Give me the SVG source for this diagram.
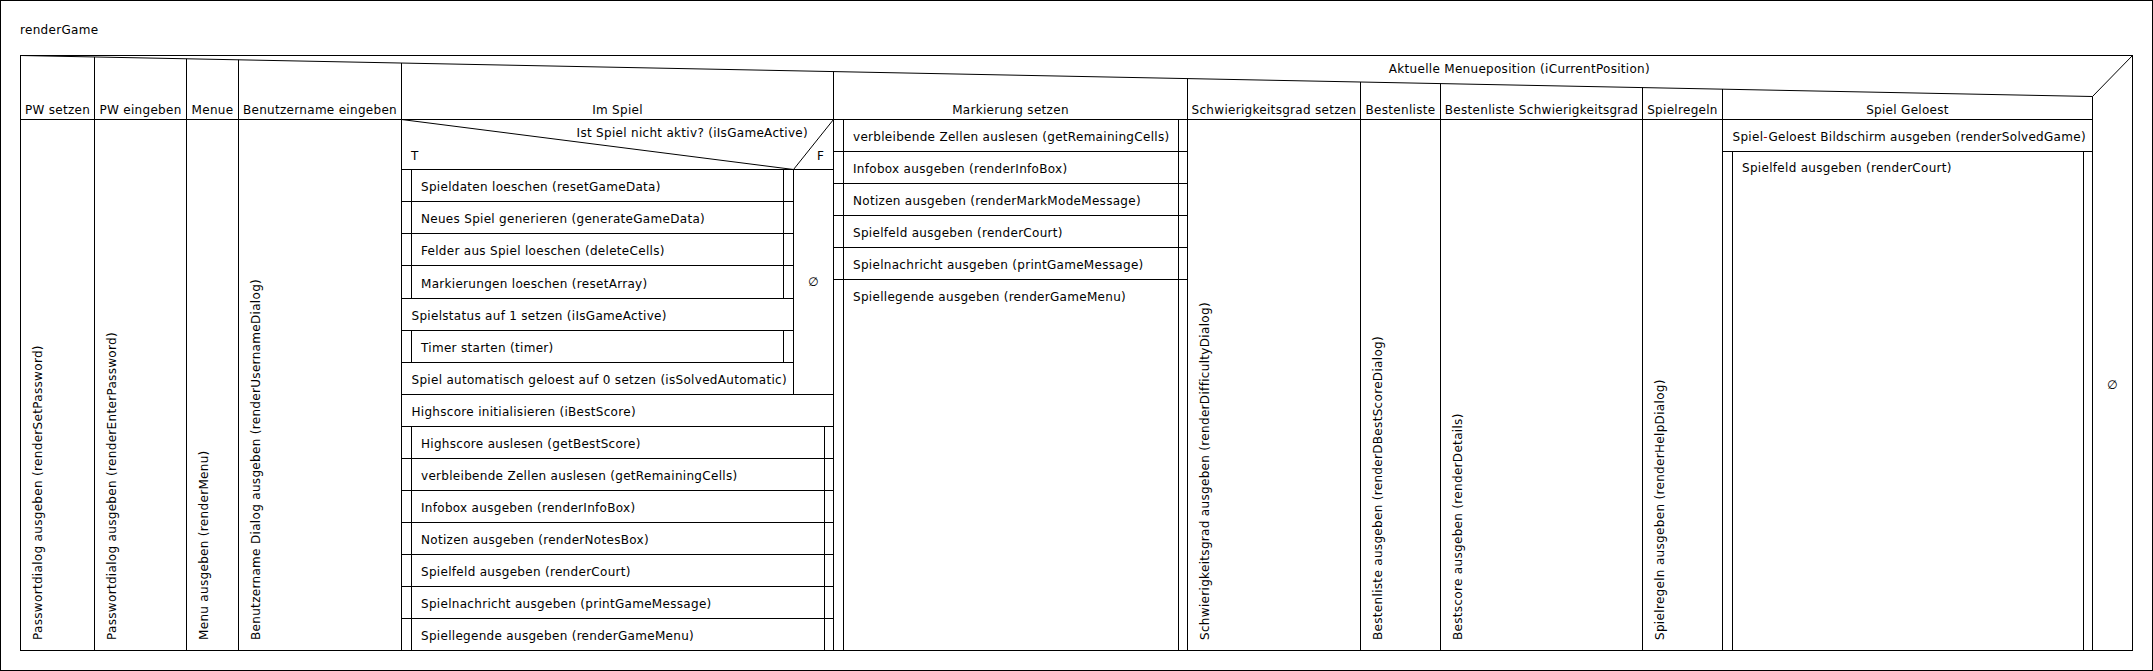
<svg xmlns="http://www.w3.org/2000/svg" width="2153" height="671" viewBox="0 0 2153 671">
<style>
text{font-family:"DejaVu Sans","Liberation Sans",sans-serif;font-size:12px;fill:#000;letter-spacing:0.3px}
.v{letter-spacing:0.32px}
.c{text-anchor:middle}
.e{text-anchor:end}
.ln{stroke:#000;stroke-width:1;fill:none}
.bx{stroke:#000;stroke-width:1;fill:#fff}
.red{fill:#a00000}
</style>
<rect x="0.5" y="0.5" width="2152" height="670" class="bx"/>
<text x="20" y="34">renderGame</text>

<g id="case">
<rect x="20.5" y="55.5" width="2112" height="595" class="bx"/>
<line x1="20.5" y1="55.5" x2="2092.5" y2="96.5" class="ln" stroke="#444"/>
<line x1="2092.5" y1="96.5" x2="2132.5" y2="55.5" class="ln"/>
<line x1="20.5" y1="119.5" x2="2092.5" y2="119.5" class="ln"/>
<line x1="94.5" y1="57" x2="94.5" y2="650.5" class="ln"/>
<line x1="186.5" y1="58.8" x2="186.5" y2="650.5" class="ln"/>
<line x1="238.5" y1="59.8" x2="238.5" y2="650.5" class="ln"/>
<line x1="401.5" y1="63" x2="401.5" y2="650.5" class="ln"/>
<line x1="833.5" y1="71.5" x2="833.5" y2="650.5" class="ln"/>
<line x1="1187.5" y1="78.5" x2="1187.5" y2="650.5" class="ln"/>
<line x1="1360.5" y1="82" x2="1360.5" y2="650.5" class="ln"/>
<line x1="1440.5" y1="83.5" x2="1440.5" y2="650.5" class="ln"/>
<line x1="1642.5" y1="87.5" x2="1642.5" y2="650.5" class="ln"/>
<line x1="1722.5" y1="89" x2="1722.5" y2="650.5" class="ln"/>
<line x1="2092.5" y1="96.5" x2="2092.5" y2="650.5" class="ln"/>
<text x="1650" y="72.5" class="e">Aktuelle Menueposition (iCurrentPosition)</text>
<text x="57.5" y="114" class="c">PW setzen</text>
<text x="140.5" y="114" class="c">PW eingeben</text>
<text x="212.5" y="114" class="c">Menue</text>
<text x="320" y="114" class="c">Benutzername eingeben</text>
<text x="617.5" y="114" class="c">Im Spiel</text>
<text x="1010.5" y="114" class="c">Markierung setzen</text>
<text x="1274" y="114" class="c">Schwierigkeitsgrad setzen</text>
<text x="1400.5" y="114" class="c">Bestenliste</text>
<text x="1541.5" y="114" class="c">Bestenliste Schwierigkeitsgrad</text>
<text x="1682.5" y="114" class="c">Spielregeln</text>
<text x="1907.5" y="114" class="c">Spiel Geloest</text>
<text x="2112.5" y="389" class="c">∅</text>
</g>

<g id="col-pw-setzen">
<text class="v" transform="translate(41.5,640) rotate(-90)">Passwortdialog ausgeben (renderSetPassword)</text>
</g>
<g id="col-pw-eingeben">
<text class="v" transform="translate(115.5,640) rotate(-90)">Passwortdialog ausgeben (renderEnterPassword)</text>
</g>
<g id="col-menue">
<text class="v" transform="translate(207.5,640) rotate(-90)">Menu ausgeben (renderMenu)</text>
</g>
<g id="col-benutzername">
<text class="v" transform="translate(259.5,640) rotate(-90)">Benutzername Dialog ausgeben (renderUsernameDialog)</text>
</g>

<g id="col-im-spiel">
<g id="if-aktiv">
<line x1="401.5" y1="119.5" x2="793.5" y2="169.5" class="ln"/>
<line x1="793.5" y1="169.5" x2="833.5" y2="119.5" class="ln"/>
<line x1="401.5" y1="169.5" x2="833.5" y2="169.5" class="ln"/>
<line x1="793.5" y1="169.5" x2="793.5" y2="394.5" class="ln"/>
<text x="808" y="137" class="e">Ist Spiel nicht aktiv? (iIsGameActive)</text>
<text x="411" y="160">T</text>
<text x="817" y="160">F</text>
<text x="813.5" y="286" class="c">∅</text>
</g>
<g id="s1"><rect x="401.5" y="169.5" width="392" height="32" class="bx"/><line x1="411.5" y1="169.5" x2="411.5" y2="201.5" class="ln"/><line x1="783.5" y1="169.5" x2="783.5" y2="201.5" class="ln"/><text x="421" y="191">Spieldaten loeschen (resetGameData)</text></g>
<g id="s2"><rect x="401.5" y="201.5" width="392" height="32" class="bx"/><line x1="411.5" y1="201.5" x2="411.5" y2="233.5" class="ln"/><line x1="783.5" y1="201.5" x2="783.5" y2="233.5" class="ln"/><text x="421" y="223">Neues Spiel generieren (generateGameData)</text></g>
<g id="s3"><rect x="401.5" y="233.5" width="392" height="32" class="bx"/><line x1="411.5" y1="233.5" x2="411.5" y2="265.5" class="ln"/><line x1="783.5" y1="233.5" x2="783.5" y2="265.5" class="ln"/><text x="421" y="255">Felder aus Spiel loeschen (deleteCells)</text></g>
<g id="s4"><rect x="401.5" y="265.5" width="392" height="33" class="bx"/><line x1="411.5" y1="265.5" x2="411.5" y2="298.5" class="ln"/><line x1="783.5" y1="265.5" x2="783.5" y2="298.5" class="ln"/><text x="421" y="287.5">Markierungen loeschen (resetArray)</text></g>
<g id="s5"><rect x="401.5" y="298.5" width="392" height="32" class="bx"/><text x="411.5" y="320">Spielstatus auf 1 setzen (iIsGameActive)</text></g>
<g id="s6"><rect x="401.5" y="330.5" width="392" height="32" class="bx"/><line x1="411.5" y1="330.5" x2="411.5" y2="362.5" class="ln"/><line x1="783.5" y1="330.5" x2="783.5" y2="362.5" class="ln"/><text x="421" y="352">Timer starten (timer)</text></g>
<g id="s7"><rect x="401.5" y="362.5" width="392" height="32" class="bx"/><text x="411.5" y="384">Spiel automatisch geloest auf 0 setzen (isSolvedAutomatic)</text></g>
<g id="s8"><rect x="401.5" y="394.5" width="432" height="32" class="bx"/><text x="411.5" y="416">Highscore initialisieren (iBestScore)</text></g>
<g id="s9"><rect x="401.5" y="426.5" width="432" height="32" class="bx"/><line x1="411.5" y1="426.5" x2="411.5" y2="458.5" class="ln"/><line x1="824.5" y1="426.5" x2="824.5" y2="458.5" class="ln"/><text x="421" y="448">Highscore auslesen (getBestScore)</text></g>
<g id="s10"><rect x="401.5" y="458.5" width="432" height="32" class="bx"/><line x1="411.5" y1="458.5" x2="411.5" y2="490.5" class="ln"/><line x1="824.5" y1="458.5" x2="824.5" y2="490.5" class="ln"/><text x="421" y="480">verbleibende Zellen auslesen (getRemainingCells)</text></g>
<g id="s11"><rect x="401.5" y="490.5" width="432" height="32" class="bx"/><line x1="411.5" y1="490.5" x2="411.5" y2="522.5" class="ln"/><line x1="824.5" y1="490.5" x2="824.5" y2="522.5" class="ln"/><text x="421" y="512">Infobox ausgeben (renderInfoBox)</text></g>
<g id="s12"><rect x="401.5" y="522.5" width="432" height="32" class="bx"/><line x1="411.5" y1="522.5" x2="411.5" y2="554.5" class="ln"/><line x1="824.5" y1="522.5" x2="824.5" y2="554.5" class="ln"/><text x="421" y="544">Notizen ausgeben (renderNotesBox)</text></g>
<g id="s13"><rect x="401.5" y="554.5" width="432" height="32" class="bx"/><line x1="411.5" y1="554.5" x2="411.5" y2="586.5" class="ln"/><line x1="824.5" y1="554.5" x2="824.5" y2="586.5" class="ln"/><text x="421" y="576">Spielfeld ausgeben (renderCourt)</text></g>
<g id="s14"><rect x="401.5" y="586.5" width="432" height="32" class="bx"/><line x1="411.5" y1="586.5" x2="411.5" y2="618.5" class="ln"/><line x1="824.5" y1="586.5" x2="824.5" y2="618.5" class="ln"/><text x="421" y="608">Spielnachricht ausgeben (printGameMessage)</text></g>
<g id="s15"><rect x="401.5" y="618.5" width="432" height="32" class="bx"/><line x1="411.5" y1="618.5" x2="411.5" y2="650.5" class="ln"/><line x1="824.5" y1="618.5" x2="824.5" y2="650.5" class="ln"/><text x="421" y="640">Spiellegende ausgeben (renderGameMenu)</text></g>
</g>

<g id="col-markierung">
<g id="m1"><rect x="833.5" y="119.5" width="354" height="32" class="bx"/><line x1="843.5" y1="119.5" x2="843.5" y2="151.5" class="ln"/><line x1="1178.5" y1="119.5" x2="1178.5" y2="151.5" class="ln"/><text x="853" y="141">verbleibende Zellen auslesen (getRemainingCells)</text></g>
<g id="m2"><rect x="833.5" y="151.5" width="354" height="32" class="bx"/><line x1="843.5" y1="151.5" x2="843.5" y2="183.5" class="ln"/><line x1="1178.5" y1="151.5" x2="1178.5" y2="183.5" class="ln"/><text x="853" y="173">Infobox ausgeben (renderInfoBox)</text></g>
<g id="m3"><rect x="833.5" y="183.5" width="354" height="32" class="bx"/><line x1="843.5" y1="183.5" x2="843.5" y2="215.5" class="ln"/><line x1="1178.5" y1="183.5" x2="1178.5" y2="215.5" class="ln"/><text x="853" y="205">Notizen ausgeben (renderMarkModeMessage)</text></g>
<g id="m4"><rect x="833.5" y="215.5" width="354" height="32" class="bx"/><line x1="843.5" y1="215.5" x2="843.5" y2="247.5" class="ln"/><line x1="1178.5" y1="215.5" x2="1178.5" y2="247.5" class="ln"/><text x="853" y="237">Spielfeld ausgeben (renderCourt)</text></g>
<g id="m5"><rect x="833.5" y="247.5" width="354" height="32" class="bx"/><line x1="843.5" y1="247.5" x2="843.5" y2="279.5" class="ln"/><line x1="1178.5" y1="247.5" x2="1178.5" y2="279.5" class="ln"/><text x="853" y="269">Spielnachricht ausgeben (printGameMessage)</text></g>
<g id="m6"><rect x="833.5" y="279.5" width="354" height="371" class="bx"/><line x1="843.5" y1="279.5" x2="843.5" y2="650.5" class="ln"/><line x1="1178.5" y1="279.5" x2="1178.5" y2="650.5" class="ln"/><text x="853" y="301">Spiellegende ausgeben (renderGameMenu)</text></g>
</g>

<g id="col-schwierigkeit">
<text class="v" transform="translate(1208.5,640) rotate(-90)">Schwierigkeitsgrad ausgeben (renderDifficultyDialog)</text>
</g>
<g id="col-bestenliste">
<text class="v" transform="translate(1381.5,640) rotate(-90)">Bestenliste ausgeben (renderDBestScoreDialog)</text>
</g>
<g id="col-bestenliste-schw">
<text class="v" transform="translate(1461.5,640) rotate(-90)">Bestscore ausgeben (renderDetails)</text>
</g>
<g id="col-spielregeln">
<text class="v" transform="translate(1663.5,640) rotate(-90)">Spielregeln ausgeben (renderHelpDialog)</text>
</g>

<g id="col-geloest">
<g id="g1"><rect x="1722.5" y="119.5" width="370" height="32" class="bx"/><text x="1732.5" y="141">Spiel<tspan class="red">-</tspan>Geloest Bildschirm ausgeben (renderSolvedGame)</text></g>
<g id="g2"><rect x="1722.5" y="151.5" width="370" height="499" class="bx"/><line x1="1732.5" y1="151.5" x2="1732.5" y2="650.5" class="ln"/><line x1="2083.5" y1="151.5" x2="2083.5" y2="650.5" class="ln"/><text x="1742" y="172">Spielfeld ausgeben (renderCourt)</text></g>
</g>
<g id="connectors"></g>
</svg>
